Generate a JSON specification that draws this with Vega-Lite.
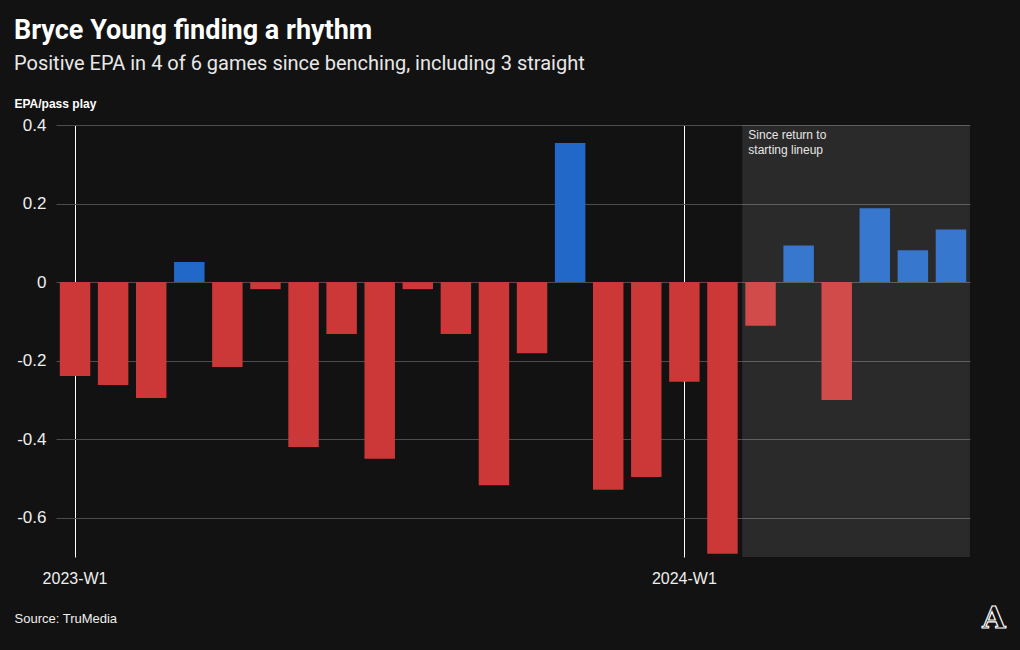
{
  "$schema": "https://vega.github.io/schema/vega-lite/v6.json",
  "width": 914,
  "height": 432,
  "autosize": "none",
  "padding": {"left": 56, "top": 125, "right": 50, "bottom": 93},
  "background": "#121212",
  "title": {
    "text": "Bryce Young finding a rhythm",
    "subtitle": "Positive EPA in 4 of 6 games since benching, including 3 straight",
    "anchor": "start",
    "frame": "group",
    "dx": -42,
    "offset": 22,
    "font": "Roboto",
    "fontSize": 27,
    "fontWeight": "bold",
    "color": "#ffffff",
    "subtitleFont": "Roboto",
    "subtitleFontSize": 20,
    "subtitleColor": "#e8e8e8",
    "subtitlePadding": 9
  },
  "config": {
    "view": {"stroke": null},
    "font": "Liberation Sans"
  },
  "data": {
    "values": [
      {"game": "2023-W1", "epa": -0.239},
      {"game": "2023-W2", "epa": -0.262},
      {"game": "2023-W4", "epa": -0.295},
      {"game": "2023-W5", "epa": 0.051},
      {"game": "2023-W6", "epa": -0.216},
      {"game": "2023-W8", "epa": -0.018},
      {"game": "2023-W9", "epa": -0.42},
      {"game": "2023-W10", "epa": -0.132},
      {"game": "2023-W11", "epa": -0.45},
      {"game": "2023-W12", "epa": -0.018},
      {"game": "2023-W13", "epa": -0.132},
      {"game": "2023-W14", "epa": -0.517},
      {"game": "2023-W15", "epa": -0.181},
      {"game": "2023-W16", "epa": 0.354},
      {"game": "2023-W17", "epa": -0.529},
      {"game": "2023-W18", "epa": -0.496},
      {"game": "2024-W1", "epa": -0.254},
      {"game": "2024-W2", "epa": -0.692},
      {"game": "2024-W8", "epa": -0.111},
      {"game": "2024-W9", "epa": 0.093},
      {"game": "2024-W10", "epa": -0.3},
      {"game": "2024-W12", "epa": 0.188},
      {"game": "2024-W13", "epa": 0.081},
      {"game": "2024-W14", "epa": 0.134}
    ]
  },
  "encoding": {
    "x": {
      "field": "game",
      "type": "ordinal",
      "sort": null,
      "scale": {"paddingInner": 0.2, "paddingOuter": 0.1},
      "axis": {
        "values": ["2023-W1", "2024-W1"],
        "grid": true,
        "gridColor": "#ffffff",
        "gridWidth": 1,
        "ticks": false,
        "domain": false,
        "labelAngle": 0,
        "labelFontSize": 16,
        "labelColor": "#eeeeee",
        "labelPadding": 13,
        "title": "Source: TruMedia",
        "titleX": -42,
        "titleY": 61,
        "titleAlign": "left",
        "titleBaseline": "middle",
        "titleFontSize": 13,
        "titleFontWeight": "normal",
        "titleColor": "#eeeeee"
      }
    }
  },
  "layer": [
    {
      "mark": {"type": "bar"},
      "encoding": {
        "y": {
          "field": "epa",
          "type": "quantitative",
          "scale": {"domain": [-0.7, 0.4], "nice": false},
          "axis": {
            "values": [-0.6, -0.4, -0.2, 0, 0.2, 0.4],
            "labelExpr": "datum.value == 0 ? '0' : (datum.value < 0 ? '-' : '') + format(abs(datum.value), '.1f')",
            "grid": true,
            "gridColor": "#4d4d4d",
            "ticks": false,
            "domain": false,
            "labelFontSize": 17,
            "labelColor": "#eeeeee",
            "labelPadding": 10,
            "title": "EPA/pass play",
            "titleAngle": 0,
            "titleX": -42,
            "titleY": -15,
            "titleAlign": "left",
            "titleBaseline": "bottom",
            "titleFontSize": 12,
            "titleFontWeight": "bold",
            "titleColor": "#ffffff"
          }
        },
        "color": {
          "condition": {"test": "datum.epa > 0", "value": "#2268c9"},
          "value": "#cc3737"
        }
      }
    },
    {
      "data": {"values": [{"start": "2024-W8", "end": "2024-W14"}]},
      "mark": {"type": "rect", "color": "#ffffff", "opacity": 0.1},
      "encoding": {
        "x": {"field": "start", "type": "ordinal", "bandPosition": -0.1},
        "x2": {"field": "end", "bandPosition": 1.12},
        "y": {"datum": 0.4},
        "y2": {"datum": -0.7}
      }
    },
    {
      "data": {"values": [{"start": "2024-W8", "label": ["Since return to", "starting lineup"]}]},
      "mark": {"type": "text", "align": "left", "baseline": "top", "dx": 3, "dy": 5, "fontSize": 12, "lineHeight": 15, "color": "#e6e6e6"},
      "encoding": {
        "x": {"field": "start", "type": "ordinal", "bandPosition": 0},
        "y": {"datum": 0.4},
        "text": {"field": "label"}
      }
    },
    {
      "data": {"values": [{"pos": "2024-W14", "logo": "A"}]},
      "mark": {"type": "text", "align": "center", "baseline": "middle", "dx": 43, "dy": 62, "fontSize": 30, "font": "DejaVu Serif", "fontWeight": "bold", "fill": "#121212", "stroke": "#ffffff", "strokeWidth": 1.2},
      "encoding": {
        "x": {"field": "pos", "type": "ordinal"},
        "y": {"datum": -0.7},
        "text": {"field": "logo"}
      }
    }
  ]
}
